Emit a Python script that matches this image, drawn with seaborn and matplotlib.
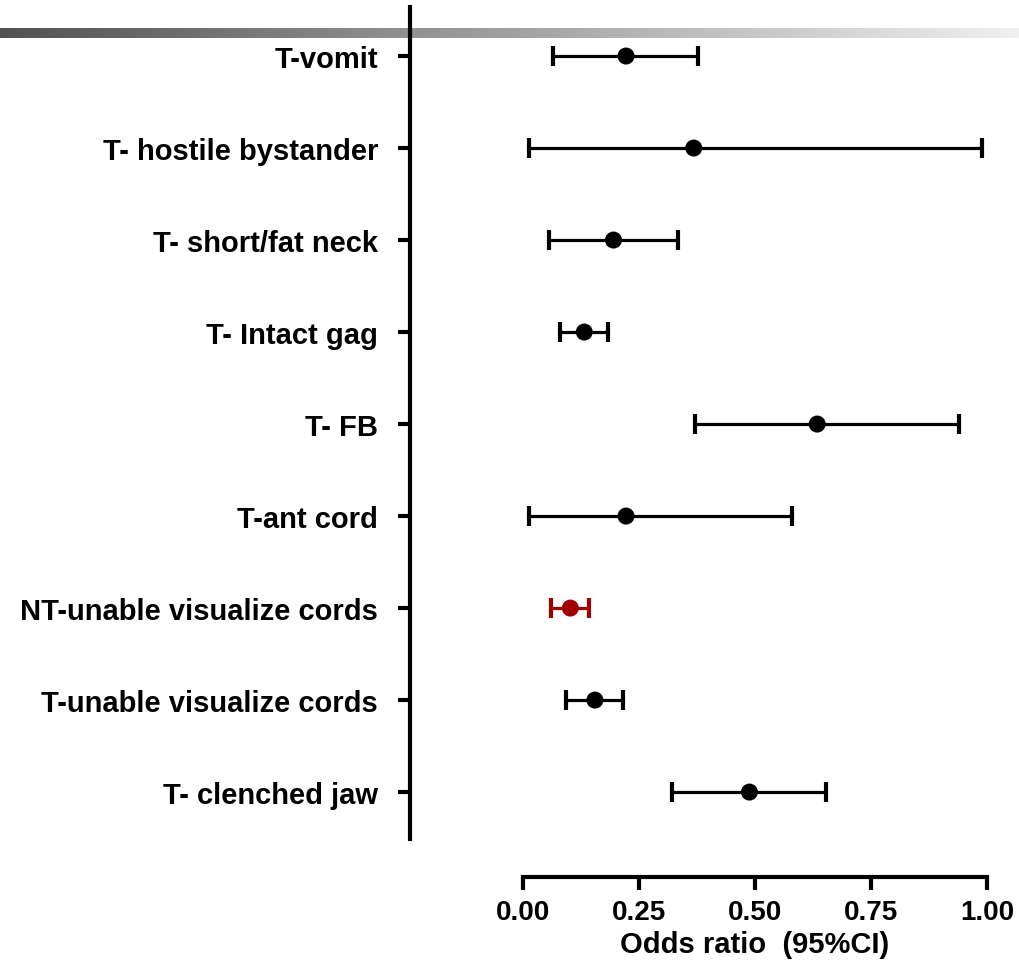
import numpy as np
import pandas as pd
import matplotlib
matplotlib.use("Agg")
import matplotlib.pyplot as plt
import seaborn as sns

labels = ["T-vomit", "T- hostile bystander", "T- short/fat neck", "T- Intact gag",
          "T- FB", "T-ant cord", "NT-unable visualize cords",
          "T-unable visualize cords", "T- clenched jaw"]
odds = [0.222, 0.368, 0.195, 0.132, 0.634, 0.222, 0.102, 0.155, 0.488]
ci_low = [0.065, 0.012, 0.057, 0.080, 0.370, 0.012, 0.060, 0.093, 0.321]
ci_high = [0.377, 0.989, 0.335, 0.184, 0.939, 0.580, 0.143, 0.216, 0.653]
groups = ["T", "T", "T", "T", "T", "T", "NT", "T", "T"]
xticks = [0.00, 0.25, 0.50, 0.75, 1.00]
xlabel = "Odds ratio  (95%CI)"

sns.set_style("white")
plt.rcParams['font.family'] = ['Liberation Sans', 'DejaVu Sans']
plt.rcParams['font.weight'] = 'bold'
plt.rcParams['text.color'] = 'black'
plt.rcParams['axes.labelcolor'] = 'black'
plt.rcParams['xtick.color'] = 'black'
plt.rcParams['ytick.color'] = 'black'

palette = {"T": "#000000", "NT": "#A00000"}

df = pd.DataFrame({"label": labels, "pos": np.arange(len(labels)), "odds": odds,
                   "lo": ci_low, "hi": ci_high, "group": groups})

fig = plt.figure(figsize=(10.2, 9.7), dpi=100)

# gradient banner
bax = fig.add_axes([0.0, 1 - 39 / 970, 1.0, 10 / 970], zorder=0)
grad = np.linspace(0, 1, 512).reshape(1, -1)
bax.imshow(grad, aspect="auto", cmap=matplotlib.colors.LinearSegmentedColormap.from_list(
    "g", ["#525252", "#f0f0f0"]), extent=[0, 1, 0, 1])
bax.axis("off")

ax = fig.add_axes([410 / 1020, 1 - 840 / 970, 600 / 1020, 832 / 970], zorder=2)
ax.patch.set_alpha(0)

for _, r in df.iterrows():
    ax.errorbar(r["odds"], r["pos"], xerr=[[r["odds"] - r["lo"]], [r["hi"] - r["odds"]]],
                fmt="none", ecolor=palette[r["group"]], elinewidth=2.3,
                capsize=7.5, capthick=3.0, zorder=3)

sns.scatterplot(data=df, x="odds", y="pos", hue="group", palette=palette, s=150,
                edgecolor="none", legend=False, ax=ax, zorder=4)

ax.set_xlim((410 - 523) / 464, (1010 - 523) / 464)
ax.set_ylim(8.51, -0.533)

for s in ["top", "right"]:
    ax.spines[s].set_visible(False)
for s in ["left", "bottom"]:
    ax.spines[s].set_linewidth(3.0)
    ax.spines[s].set_color("black")
ax.spines["bottom"].set_bounds(0, 1)
ax.spines["bottom"].set_position(("axes", -38 / 832))

ax.set_yticks(df["pos"])
ax.set_yticklabels(labels)
ax.set_xticks(xticks)
ax.set_xticklabels([f"{v:.2f}" for v in xticks])
ax.set_xlabel(xlabel, fontsize=21, fontweight="bold", color="black")
ax.set_ylabel("")
ax.xaxis.set_label_coords((755 - 410) / 600, -91 / 832)

ax.tick_params(axis="y", direction="out", length=9, width=3.0, pad=14, left=True,
               labelsize=21, labelcolor="black")
ax.tick_params(axis="x", direction="out", length=9, width=3.0, pad=7, bottom=True,
               labelsize=20, labelcolor="black")
for t in ax.get_xticklabels() + ax.get_yticklabels():
    t.set_fontweight("bold")

fig.savefig("out.png", dpi=100)
